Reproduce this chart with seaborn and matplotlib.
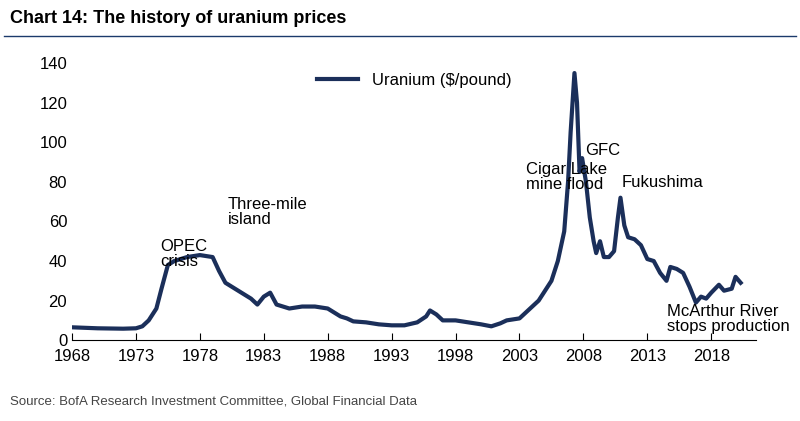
import matplotlib
matplotlib.use("Agg")
import matplotlib.pyplot as plt
import seaborn as sns
import pandas as pd

years = [1968, 1970, 1972, 1973, 1973.5, 1974, 1974.6, 1975, 1975.5, 1976, 1977, 1978, 1979, 1979.5, 1980, 1981, 1982, 1982.5, 1983, 1983.5, 1984, 1985, 1986, 1987, 1988, 1989, 1989.5, 1990, 1991, 1992, 1993, 1994, 1995, 1995.7, 1996, 1996.5, 1997, 1998, 1999, 2000, 2000.8, 2001.5, 2002, 2003, 2004, 2004.5, 2005, 2005.5, 2006, 2006.5, 2006.8, 2007.0, 2007.3, 2007.5, 2007.7, 2007.9, 2008.2, 2008.5, 2008.8, 2009, 2009.3, 2009.6, 2010, 2010.4, 2010.7, 2010.9, 2011.2, 2011.5, 2012, 2012.5, 2013, 2013.5, 2014, 2014.5, 2014.8, 2015.3, 2015.8, 2016.3, 2016.8, 2017.2, 2017.6, 2018, 2018.6, 2019, 2019.6, 2019.9, 2020.3]
prices = [6.5, 6, 5.8, 6, 7, 10, 16, 26, 38, 40, 42, 43, 42, 35, 29, 25, 21, 18, 22, 24, 18, 16, 17, 17, 16, 12, 11, 9.5, 9, 8, 7.5, 7.5, 9, 12, 15, 13, 10, 10, 9, 8, 7, 8.5, 10, 11, 17, 20, 25, 30, 40, 55, 80, 105, 135, 120, 85, 92, 80, 62, 50, 44, 50, 42, 42, 45, 62, 72, 58, 52, 51, 48, 41, 40, 34, 30, 37, 36, 34, 27, 19, 22, 21, 24, 28, 25, 26, 32, 29]
xticks = list(range(1968, 2019, 5))
yticks = list(range(0, 141, 20))
annotations = [("OPEC\ncrisis", 1974.9, 36), ("Three-mile\nisland", 1980.2, 57), ("Cigar Lake\nmine flood", 2003.5, 75),
               ("GFC", 2008.1, 92), ("Fukushima", 2011.0, 76), ("McArthur River\nstops production", 2014.5, 3)]

plt.rcParams["font.family"] = "Liberation Sans"
df = pd.DataFrame({"year": years, "Uranium ($/pound)": prices})
fig = plt.figure(figsize=(8, 4.21), dpi=100)
ax = fig.add_axes([0.09, 0.192, 0.855, 0.658])
sns.lineplot(data=df, x="year", y="Uranium ($/pound)", ax=ax, color="#1b2f5a", linewidth=3, label="Uranium ($/pound)")
ax.set_xlim(1968, 2021.5)
ax.set_ylim(0, 140)
ax.set_xticks(xticks)
ax.set_yticks(yticks)
ax.tick_params(labelsize=12, length=0)
ax.tick_params(axis="x", direction="in", length=5, pad=6)
ax.set_xlabel("")
ax.set_ylabel("")
for s in ["top", "right", "left"]:
    ax.spines[s].set_visible(False)
ax.spines["bottom"].set_color("black")
for t, x, y in annotations:
    ax.text(x, y, t, fontsize=12, ha="left", va="bottom", linespacing=1.0)
ax.legend(loc="upper center", bbox_to_anchor=(0.5, 1.02), frameon=False, fontsize=12, handlelength=2.5)
fig.text(0.012, 0.955, "Chart 14: The history of uranium prices", fontsize=13, fontweight="bold", ha="left", va="center")
fig.add_artist(plt.Line2D([0.005, 0.995], [0.915, 0.915], color="#1b3a6b", linewidth=1))
fig.text(0.012, 0.04, "Source: BofA Research Investment Committee, Global Financial Data", fontsize=9.5, color="#444444", ha="left")
fig.savefig("out.png", dpi=100)
